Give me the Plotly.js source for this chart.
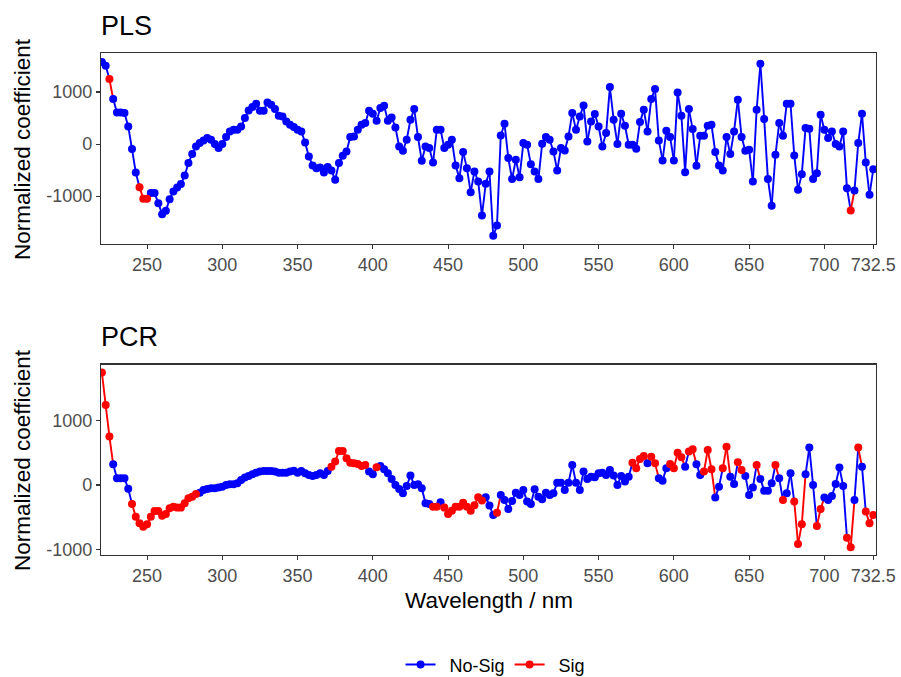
<!DOCTYPE html>
<html>
<head>
<meta charset="utf-8">
<script src="https://cdn.plot.ly/plotly-3.0.1.min.js"></script>
<style>html,body{margin:0;padding:0;background:#fff;}#chart{width:901px;height:677px;}</style>
</head>
<body>
<div id="chart"></div>
<script>
// Wavelength grid (nm)
const wavelength = [220,222.5,225,227.5,230,232.5,235,237.5,240,242.5,245,247.5,250,252.5,255,257.5,260,262.5,265,267.5,270,272.5,275,277.5,280,282.5,285,287.5,290,292.5,295,297.5,300,302.5,305,307.5,310,312.5,315,317.5,320,322.5,325,327.5,330,332.5,335,337.5,340,342.5,345,347.5,350,352.5,355,357.5,360,362.5,365,367.5,370,372.5,375,377.5,380,382.5,385,387.5,390,392.5,395,397.5,400,402.5,405,407.5,410,412.5,415,417.5,420,422.5,425,427.5,430,432.5,435,437.5,440,442.5,445,447.5,450,452.5,455,457.5,460,462.5,465,467.5,470,472.5,475,477.5,480,482.5,485,487.5,490,492.5,495,497.5,500,502.5,505,507.5,510,512.5,515,517.5,520,522.5,525,527.5,530,532.5,535,537.5,540,542.5,545,547.5,550,552.5,555,557.5,560,562.5,565,567.5,570,572.5,575,577.5,580,582.5,585,587.5,590,592.5,595,597.5,600,602.5,605,607.5,610,612.5,615,617.5,620,622.5,625,627.5,630,632.5,635,637.5,640,642.5,645,647.5,650,652.5,655,657.5,660,662.5,665,667.5,670,672.5,675,677.5,680,682.5,685,687.5,690,692.5,695,697.5,700,702.5,705,707.5,710,712.5,715,717.5,720,722.5,725,727.5,730,732.5];

// PLS normalized coefficients
const plsCoef = [1576,1505,1249,864,608,608,595,339,-97,-546,-828,-1052,-1052,-943,-943,-1136,-1347,-1283,-1059,-911,-834,-770,-604,-366,-193,-46,18,70,114,82,-1,-78,-1,134,243,275,275,339,499,646,710,775,640,640,800,755,672,544,531,435,371,326,275,243,31,-238,-411,-463,-450,-546,-443,-507,-687,-366,-225,-142,134,146,275,371,403,640,582,448,691,736,448,512,320,-46,-129,82,467,672,134,-322,-46,-78,-354,275,275,-78,-14,82,-411,-655,-155,-463,-924,-527,-719,-1373,-764,-527,-1764,-1565,166,390,-270,-674,-302,-636,18,-14,-386,-527,-674,5,134,82,-142,-507,-78,-123,146,595,275,531,742,50,435,576,339,-46,211,1095,467,-1,582,351,-14,-14,-91,422,659,243,864,1057,70,-315,255,134,-315,993,544,-540,672,287,-418,159,159,351,371,-155,-411,-507,134,-193,243,852,134,-129,-110,-719,659,1544,480,-674,-1187,-206,403,159,775,775,-219,-879,-578,307,294,-674,-559,563,275,114,243,-1,-46,243,-847,-1277,-892,18,582,-354,-975,-482];
// PLS significance flag (1 = Sig)
const plsSig = [0,0,1,0,0,0,0,0,0,0,1,1,1,0,0,0,0,0,0,0,0,0,0,0,0,0,0,0,0,0,0,0,0,0,0,0,0,0,0,0,0,0,0,0,0,0,0,0,0,0,0,0,0,0,0,0,0,0,0,0,0,0,0,0,0,0,0,0,0,0,0,0,0,0,0,0,0,0,0,0,0,0,0,0,0,0,0,0,0,0,0,0,0,0,0,0,0,0,0,0,0,0,0,0,0,0,0,0,0,0,0,0,0,0,0,0,0,0,0,0,0,0,0,0,0,0,0,0,0,0,0,0,0,0,0,0,0,0,0,0,0,0,0,0,0,0,0,0,0,0,0,0,0,0,0,0,0,0,0,0,0,0,0,0,0,0,0,0,0,0,0,0,0,0,0,0,0,0,0,0,0,0,0,0,0,0,0,0,0,0,0,0,0,0,0,0,0,0,0,1,0,0,0,0,0,0];

// PCR normalized coefficients
const pcrCoef = [1741,1240,749,320,103,103,103,-57,-295,-491,-594,-646,-610,-491,-403,-403,-475,-450,-362,-336,-351,-351,-284,-207,-181,-140,-119,-78,-62,-52,-52,-41,-26,0,10,10,26,77,114,140,165,191,207,217,217,217,207,191,190,191,210,222,191,217,181,155,139,155,181,155,217,284,362,527,527,413,346,336,325,294,310,207,165,274,294,243,181,93,0,-62,-129,-16,145,0,10,-52,-284,-295,-336,-336,-269,-351,-450,-398,-336,-336,-274,-336,-400,-315,-191,-240,-191,-320,-465,-429,-155,-233,-372,-248,-119,-155,-78,-258,-295,-67,-181,-222,-119,-155,-129,36,36,-78,36,310,36,-78,207,93,129,119,181,191,155,232,145,0,140,52,129,346,258,403,449,336,439,336,103,67,258,325,258,501,429,284,517,553,320,155,207,542,243,-196,-26,258,594,129,15,351,232,140,-155,-41,310,93,-88,-88,26,310,103,-233,-129,181,-258,-915,-610,165,579,0,-636,-372,-196,-233,-170,15,269,-16,-816,-966,-233,579,284,-413,-594,-465];
// PCR significance flag (1 = Sig)
const pcrSig = [1,1,1,0,0,0,0,0,1,1,1,1,1,1,1,1,1,1,1,1,1,1,1,1,1,1,0,0,0,0,0,0,0,0,0,0,0,0,0,0,0,0,0,0,0,0,0,0,0,0,0,0,0,0,0,0,0,0,0,0,0,1,1,1,1,1,1,1,1,1,1,0,0,1,0,0,0,0,0,0,0,0,0,0,0,0,0,0,1,1,0,1,1,1,1,1,1,1,1,1,1,1,0,0,0,1,0,0,0,0,0,0,0,0,0,0,0,0,0,0,0,0,0,0,0,0,0,0,0,0,0,0,0,0,0,0,0,0,0,0,0,1,1,1,1,0,1,1,0,0,0,1,1,1,1,0,1,1,0,0,1,1,1,0,0,1,1,0,0,1,1,0,0,0,1,0,0,0,0,1,0,1,0,0,1,1,1,0,0,0,1,1,0,0,0,0,0,0,1,1,0,1,0,1,1,1];

const groupNames = ["No-Sig", "Sig"];
const groupColors = ["#0000FF", "#FF0000"];
const xTickVals = [250,300,350,400,450,500,550,600,650,700,732.5];
const xTickText = ["250","300","350","400","450","500","550","600","650","700","732.5"];
const yTickVals = [-1000,0,1000];
const yTickText = ["-1000","0","1000"];

function buildTraces(xs, ys, sig, xa, ya) {
  const out = [];
  for (let g = 0; g < 2; g++) {
    const lx = [], ly = [];
    for (let i = 0; i < xs.length - 1; i++) {
      if (sig[i] === g) { lx.push(xs[i], xs[i+1], null); ly.push(ys[i], ys[i+1], null); }
    }
    out.push({type:'scatter', mode:'lines', x:lx, y:ly, xaxis:xa, yaxis:ya,
      line:{color:groupColors[g], width:1.9}, showlegend:false, hoverinfo:'skip', connectgaps:false});
  }
  for (let g = 0; g < 2; g++) {
    const px = [], py = [];
    for (let i = 0; i < xs.length; i++) if (sig[i] === g) { px.push(xs[i]); py.push(ys[i]); }
    out.push({type:'scatter', mode:'markers', x:px, y:py, xaxis:xa, yaxis:ya,
      marker:{color:groupColors[g], size:8}, showlegend:false});
  }
  return out;
}

let traces = [];
traces = traces.concat(buildTraces(wavelength, plsCoef, plsSig, 'x', 'y'));
traces = traces.concat(buildTraces(wavelength, pcrCoef, pcrSig, 'x2', 'y2'));
for (let g = 0; g < 2; g++) {
  traces.push({type:'scatter', mode:'lines+markers', x:[null], y:[null], xaxis:'x2', yaxis:'y2',
    name:'\u2002' + groupNames[g], line:{color:groupColors[g], width:1.9}, marker:{color:groupColors[g], size:8}, showlegend:true});
}

const fontFam = "Liberation Sans, Arial, sans-serif";
const axisCommon = {
  automargin:false,
  showline:true, mirror:true, linecolor:'#333333', linewidth:1.1,
  ticks:'outside', ticklen:4, tickwidth:1.1, tickcolor:'#333333',
  showgrid:false, zeroline:false,
  tickfont:{family:fontFam, size:18, color:'#4D4D4D'}
};
const xRange = [219.4, 734.3];

const layout = {
  width:901, height:677,
  margin:{l:101, r:25, t:53, b:122, autoexpand:false},
  paper_bgcolor:'#FFFFFF', plot_bgcolor:'#FFFFFF',
  font:{family:fontFam, color:'#000000'},
  showlegend:true,
  legend:{orientation:'h', xref:'container', yref:'container', x:0.55, xanchor:'center', y:0.018, yanchor:'middle',
    font:{family:fontFam, size:18, color:'#000000'}, itemwidth:30, tracegroupgap:0},
  xaxis:Object.assign({}, axisCommon, {domain:[0,1], anchor:'y', range:xRange,
    tickmode:'array', tickvals:xTickVals, ticktext:xTickText}),
  yaxis:Object.assign({}, axisCommon, {domain:[0.6193,1], anchor:'x', range:[-1923,1750],
    tickmode:'array', tickvals:yTickVals, ticktext:yTickText}),
  xaxis2:Object.assign({}, axisCommon, {domain:[0,1], anchor:'y2', range:xRange,
    tickmode:'array', tickvals:xTickVals, ticktext:xTickText}),
  yaxis2:Object.assign({}, axisCommon, {domain:[0,0.3793], anchor:'x2', range:[-1085,1865],
    tickmode:'array', tickvals:yTickVals, ticktext:yTickText}),
  annotations:[
    {text:'PLS', xref:'paper', yref:'paper', x:-0.002, y:(555-25.5)/502, xanchor:'left', yanchor:'middle', showarrow:false,
      font:{family:fontFam, size:27, color:'#000000'}},
    {text:'PCR', xref:'paper', yref:'paper', x:-0.002, y:(555-337)/502, xanchor:'left', yanchor:'middle', showarrow:false,
      font:{family:fontFam, size:27, color:'#000000'}},
    {text:'Normalized coefficient', xref:'paper', yref:'paper', x:(22-101)/775, y:(555-149)/502, xanchor:'center', yanchor:'middle',
      textangle:-90, showarrow:false, font:{family:fontFam, size:22.5, color:'#000000'}},
    {text:'Normalized coefficient', xref:'paper', yref:'paper', x:(22-101)/775, y:(555-460)/502, xanchor:'center', yanchor:'middle',
      textangle:-90, showarrow:false, font:{family:fontFam, size:22.5, color:'#000000'}},
    {text:'Wavelength / nm', xref:'paper', yref:'paper', x:0.5, y:(555-600)/502, xanchor:'center', yanchor:'middle',
      showarrow:false, font:{family:fontFam, size:22.5, color:'#000000'}}
  ]
};

Plotly.newPlot('chart', traces, layout, {displayModeBar:false, staticPlot:true});
</script>
</body>
</html>
